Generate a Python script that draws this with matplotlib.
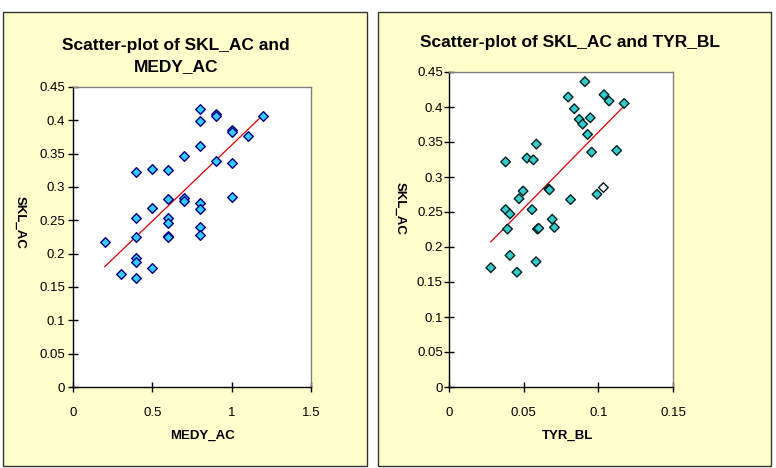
import matplotlib.pyplot as plt
import numpy as np
from matplotlib.patches import Rectangle

plt.rcParams["font.family"] = ["Liberation Sans", "DejaVu Sans"]

# left panel: SKL_AC vs MEDY_AC
medy_ac = [0.2, 0.3, 0.4, 0.4, 0.4, 0.4, 0.4, 0.4, 0.5, 0.5, 0.5, 0.6, 0.6, 0.6,
           0.6, 0.6, 0.6, 0.7, 0.7, 0.7, 0.8, 0.8, 0.8, 0.8, 0.8, 0.8, 0.8, 0.9,
           0.9, 0.9, 1.0, 1.0, 1.0, 1.0, 1.1, 1.2]
skl_ac_left = [0.2175, 0.1695, 0.322, 0.253, 0.2255, 0.194, 0.1875, 0.163, 0.3275,
               0.269, 0.178, 0.325, 0.282, 0.253, 0.2465, 0.2265, 0.225, 0.347,
               0.283, 0.2795, 0.4175, 0.3985, 0.3615, 0.2755, 0.2675, 0.24, 0.2275,
               0.409, 0.407, 0.3385, 0.3855, 0.3825, 0.3365, 0.2855, 0.376, 0.406]

# right panel: SKL_AC vs TYR_BL
tyr_bl = [0.028, 0.0379, 0.0379, 0.0392, 0.0408, 0.0408, 0.0455, 0.0469, 0.0496,
          0.0522, 0.0556, 0.0565, 0.0583, 0.0585, 0.0592, 0.0601, 0.0668, 0.0673,
          0.0691, 0.0706, 0.0798, 0.0814, 0.0839, 0.0872, 0.0895, 0.091, 0.0928,
          0.0946, 0.0955, 0.0991, 0.1034, 0.1038, 0.1072, 0.1123, 0.1173]
skl_ac_right = [0.1704, 0.3216, 0.2534, 0.2257, 0.2472, 0.188, 0.164, 0.269, 0.28,
                0.327, 0.2534, 0.3245, 0.179, 0.347, 0.2257, 0.2267, 0.283, 0.2816,
                0.2396, 0.228, 0.4142, 0.2677, 0.3975, 0.3823, 0.3756, 0.4362, 0.3608,
                0.3846, 0.3355, 0.2753, 0.2849, 0.4176, 0.4085, 0.3379, 0.4051]
hollow_index = 30

W, H = 776, 468
fig = plt.figure(figsize=(W / 100, H / 100), dpi=100)
fig.patch.set_facecolor("white")

# yellow chart-area panels
for x0, x1 in [(3, 367), (378, 771)]:
    fig.patches.append(Rectangle((x0 / W, 1 - 466 / H), (x1 - x0) / W, (466 - 12) / H,
                                 transform=fig.transFigure, facecolor="#FFFFCC",
                                 edgecolor="#333333", linewidth=1.0, zorder=-5))


def style_axes(ax, xlim, xticks, xlabels, ylabel_pad):
    ax.set_facecolor("white")
    ax.set_xlim(*xlim)
    ax.set_ylim(0, 0.45)
    ax.set_xticks(xticks)
    ax.set_xticklabels(xlabels)
    yt = np.round(np.arange(0, 0.451, 0.05), 2)
    ax.set_yticks(yt)
    ax.set_yticklabels(["0"] + [f"{v:g}" for v in yt[1:]])
    for side in ["top", "right"]:
        ax.spines[side].set_color("#808080")
        ax.spines[side].set_linewidth(1.0)
    for side in ["left", "bottom"]:
        ax.spines[side].set_color("black")
        ax.spines[side].set_linewidth(1.0)
    ax.tick_params(axis="x", direction="inout", length=7, width=1, labelsize=9.5, pad=11)
    ax.tick_params(axis="y", direction="inout", length=7, width=1, labelsize=9.5, pad=ylabel_pad)


def add_trend(ax, x, y):
    x = np.asarray(x)
    slope, intercept = np.polyfit(x, y, 1)
    xs = np.array([x.min(), x.max()])
    ax.plot(xs, slope * xs + intercept, color="#E00000", linewidth=0.9, zorder=2)


# left chart
ax1 = fig.add_axes([73 / W, 1 - 387 / H, 238 / W, 300 / H])
style_axes(ax1, (0, 1.5), [0, 0.5, 1, 1.5], ["0", "0.5", "1", "1.5"], 2)
ax1.scatter(medy_ac, skl_ac_left, marker="D", s=24, facecolor="#33CCFF",
            edgecolor="#000080", linewidth=1.0, zorder=3)
add_trend(ax1, medy_ac, skl_ac_left)

# right chart
ax2 = fig.add_axes([449 / W, 1 - 387 / H, 224 / W, 315 / H])
style_axes(ax2, (0, 0.15), [0, 0.05, 0.1, 0.15], ["0", "0.05", "0.1", "0.15"], 1)
fills = ["white" if i == hollow_index else "#33CCCC" for i in range(len(tyr_bl))]
ax2.scatter(tyr_bl, skl_ac_right, marker="D", s=24, facecolor=fills,
            edgecolor="#002020", linewidth=1.0, zorder=3)
add_trend(ax2, tyr_bl, skl_ac_right)

# titles and axis labels
fig.text(176 / W, 1 - 56 / H, "Scatter-plot of SKL_AC and\nMEDY_AC", ha="center",
         va="center", fontsize=12.5, fontweight="bold", linespacing=1.5)
fig.text(570 / W, 1 - 42 / H, "Scatter-plot of SKL_AC and TYR_BL", ha="center",
         va="center", fontsize=12.5, fontweight="bold")
fig.text(202 / W, 1 - 436 / H, "MEDY_AC", ha="center", va="center",
         fontsize=9.5, fontweight="bold")
fig.text(568 / W, 1 - 436 / H, "TYR_BL", ha="center", va="center",
         fontsize=9.5, fontweight="bold")
fig.text(20 / W, 1 - 222 / H, "SKL_AC", ha="center", va="center", rotation=-90,
         fontsize=9.5, fontweight="bold")
fig.text(400 / W, 1 - 208 / H, "SKL_AC", ha="center", va="center", rotation=-90,
         fontsize=9.5, fontweight="bold")

fig.savefig("out.png", dpi=100)
